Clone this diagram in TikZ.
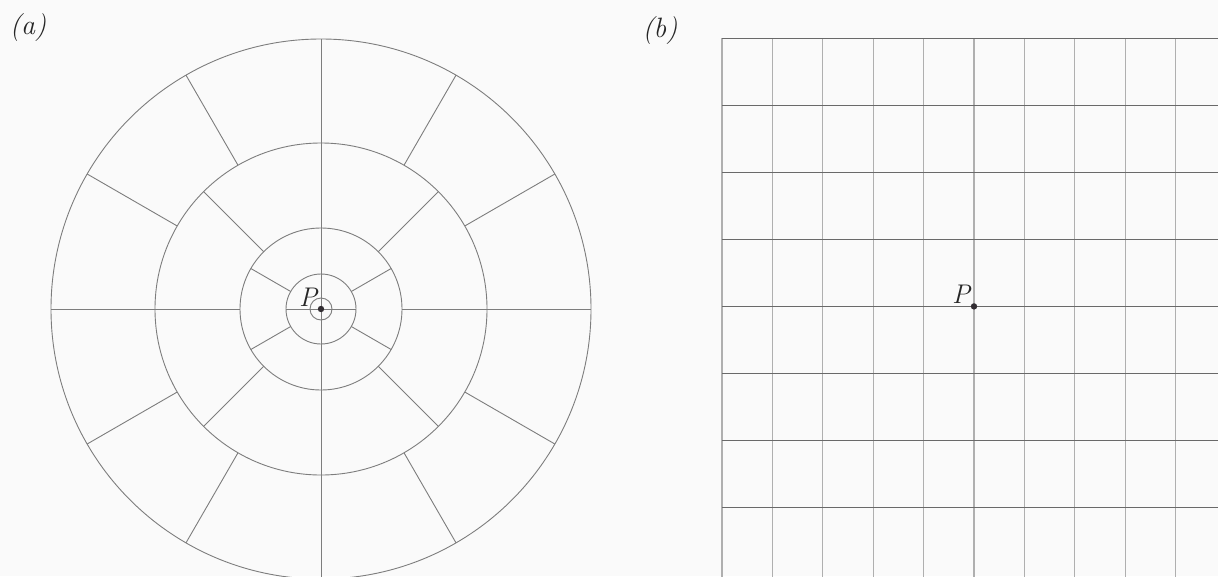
\documentclass[tikz,border=0pt]{standalone}
\usetikzlibrary{calc}
\definecolor{bgc}{RGB}{250,250,250}
\definecolor{linec}{RGB}{125,125,125}
\definecolor{hlinec}{RGB}{105,105,105}
\definecolor{vlinec}{RGB}{175,175,175}
\definecolor{dotc}{RGB}{50,45,50}
\begin{document}
\begin{tikzpicture}[x=1pt,y=-1pt,
  wire/.style={draw=linec,line width=0.9pt},
  hgrid/.style={draw=hlinec,line width=0.9pt},
  vgrid/.style={draw=vlinec,line width=1.1pt},
  lbl/.style={inner sep=0pt,font=\fontsize{28}{30}\selectfont\itshape,text=black!85},
  ptlbl/.style={inner sep=0pt,font=\fontsize{27}{29}\selectfont\itshape,text=black!85},
  pdot/.style={fill=dotc,draw=none}]
\fill[bgc] (0,0) rectangle (1218,576);
\useasboundingbox (0,0) rectangle (1218,576);
\begin{scope}
\clip (0,0) rectangle (1218,576);
% ---------- panel (a) ----------
\coordinate (ca) at (321,309);
\foreach \r in {270,166,81,35,11}
  \draw[wire] (ca) circle[radius=\r pt];
\begin{scope}[shift={(ca)}]
  % vertical through everything
  \draw[wire] (90:270pt) -- (270:270pt);
  % horizontal pieces
  \draw[wire] (180:270pt) -- (180:81pt);
  \draw[wire] (0:81pt) -- (0:270pt);
  \draw[wire] (180:35pt) -- (0:35pt);
  % ring 35-81
  \foreach \a in {30,150,210,330}
    \draw[wire] (\a:35pt) -- (\a:81pt);
  % ring 81-166
  \foreach \a in {45,135,225,315}
    \draw[wire] (\a:81pt) -- (\a:166pt);
  % ring 166-270
  \foreach \a in {30,60,120,150,210,240,300,330}
    \draw[wire] (\a:166pt) -- (\a:270pt);
\end{scope}
\fill[pdot] (ca) circle[radius=3.2pt];
\node[ptlbl] (pa) at (308,297) {P};
\node[lbl] (la) at (28,28) {(a)};
% ---------- panel (b) ----------
\coordinate (pb) at (974,306.4);
\foreach \k in {0,...,9}
  \draw[vgrid] ({722+50.4*\k},38) -- ({722+50.4*\k},580);
\foreach \k in {0,...,7}
  \draw[hgrid] (722,{38+67.1*\k}) -- (1222,{38+67.1*\k});
\fill[pdot] (pb) circle[radius=3.2pt];
\node[ptlbl] (pbl) at (961,294) {P};
\node[lbl] (lb) at (660,31) {(b)};
\end{scope}
\end{tikzpicture}
\end{document}
